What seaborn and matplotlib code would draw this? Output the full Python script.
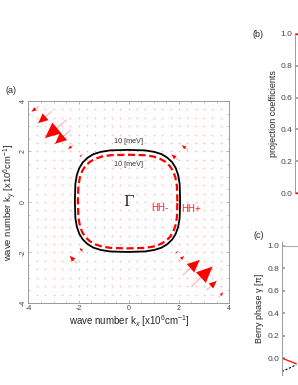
import matplotlib

matplotlib.use("Agg")
import matplotlib.pyplot as plt
import numpy as np
import pandas as pd
import seaborn as sns

# 10 meV constant-energy contours (units 1e6 cm^-1)
hhp_kx = [2.05, 2.03, 1.97, 1.87, 1.73, 1.54, 1.31, 1.02, 0.65, -0.05,
          -0.75, -1.12, -1.41, -1.64, -1.83, -1.97, -2.07, -2.13, -2.15,
          -2.13, -2.07, -1.97, -1.83, -1.64, -1.41, -1.12, -0.75, -0.05,
          0.65, 1.02, 1.31, 1.54, 1.73, 1.87, 1.97, 2.03, 2.05]
hhp_ky = [0.04, 0.72, 1.07, 1.35, 1.57, 1.75, 1.89, 1.98, 2.04, 2.06,
          2.04, 1.98, 1.89, 1.75, 1.57, 1.35, 1.07, 0.72, 0.04,
          -0.64, -0.99, -1.27, -1.49, -1.67, -1.81, -1.90, -1.96, -1.98,
          -1.96, -1.90, -1.81, -1.67, -1.49, -1.27, -0.99, -0.64, 0.04]
hhm_kx = [1.94, 1.92, 1.86, 1.77, 1.64, 1.46, 1.24, 0.97, 0.62, -0.05,
          -0.71, -1.06, -1.33, -1.55, -1.73, -1.86, -1.95, -2.01, -2.03,
          -2.01, -1.95, -1.86, -1.73, -1.55, -1.33, -1.06, -0.71, -0.05,
          0.62, 0.97, 1.24, 1.46, 1.64, 1.77, 1.86, 1.92, 1.94]
hhm_ky = [0.02, 0.64, 0.97, 1.22, 1.42, 1.59, 1.71, 1.80, 1.85, 1.87,
          1.85, 1.80, 1.71, 1.59, 1.42, 1.22, 0.97, 0.64, 0.02,
          -0.61, -0.94, -1.19, -1.39, -1.56, -1.68, -1.77, -1.82, -1.84,
          -1.82, -1.77, -1.68, -1.56, -1.39, -1.19, -0.94, -0.61, 0.02]

# visible arrows of the vector field: tail position and vector
arrow_kx = [-3.61, -3.08, -2.48, -2.32, -2.21, -1.85,
            2.16, 2.50, 3.10, 3.60, 2.00, 1.85,
            1.97, 2.35, -2.08, -1.80]
arrow_ky = [3.77, 3.58, 3.25, 2.85, 2.26, 1.88,
            -2.89, -3.35, -3.49, -3.75, -2.33, -2.05,
            1.66, 2.05, -2.43, -2.00]
arrow_u = [-0.26, -0.53, -0.86, -0.62, -0.20, -0.10,
           0.67, 0.84, 0.40, 0.16, 0.20, 0.10,
           -0.26, -0.22, -0.27, -0.15]
arrow_v = [-0.19, -0.46, -0.72, -0.55, -0.16, -0.09,
           0.59, 0.79, 0.36, 0.16, 0.18, 0.09,
           0.21, 0.19, 0.29, 0.17]

# background sampling grid of the field
grid_k = np.linspace(-11 / 3, 11 / 3, 23)

# panel (b) and (c) edges visible at the right border
proj_x = [0.0, 1.0]
proj_a = [1.0, 1.0]
proj_b = [0.0, 0.0]
berry_x = [0.0, 0.08]
berry_hhm = [0.0, -0.05]
berry_hhp = [-0.12, -0.06]

sns.set_theme(style="ticks")
plt.rcParams["font.family"] = ["Liberation Sans", "DejaVu Sans"]
plt.rcParams["mathtext.fontset"] = "custom"
plt.rcParams["mathtext.rm"] = "Liberation Sans"
plt.rcParams["mathtext.it"] = "Liberation Sans:italic"
plt.rcParams["axes.unicode_minus"] = False

spine_col = "#9a9a9a"
tick_col = "#444444"

fig = plt.figure(figsize=(2.98, 3.85), dpi=100)

# ---- panel (a)
ax = fig.add_axes([0.0956, 0.213, 0.673, 0.525])
gx, gy = np.meshgrid(grid_k, grid_k)
bg = pd.DataFrame({"kx": gx.ravel(), "ky": gy.ravel()})
sns.scatterplot(data=bg, x="kx", y="ky", s=1.6, color="#ffbcbc", linewidth=0, ax=ax)

for x, y, u, v in zip(arrow_kx, arrow_ky, arrow_u, arrow_v):
    L = np.hypot(u, v)
    ax.plot([x, x + u], [y, y + v], color="#ff9a9a", lw=0.6, zorder=3)
    h = 0.55
    ax.arrow(x + (1 - h) * u, y + (1 - h) * v, h * u, h * v, width=0.0005,
             head_width=0.5 * L, head_length=h * L, length_includes_head=True,
             color="#ff0000", lw=0, zorder=4)

cont = pd.DataFrame({"kx": hhp_kx, "ky": hhp_ky})
sns.lineplot(data=cont, x="kx", y="ky", sort=False, estimator=None,
             color="black", lw=1.3, ax=ax, zorder=5)
cont2 = pd.DataFrame({"kx": hhm_kx, "ky": hhm_ky})
sns.lineplot(data=cont2, x="kx", y="ky", sort=False, estimator=None,
             color="#ff0000", lw=1.6, linestyle=(0, (3.2, 1.6)), ax=ax, zorder=6)

ax.text(0.0, 2.38, "10 [meV]", ha="center", va="center", fontsize=5.2, color="#333333")
ax.text(0.0, 1.5, "10 [meV]", ha="center", va="center", fontsize=5.2, color="#333333")
ax.text(0.0, -0.02, "Γ", ha="center", va="center", fontsize=11,
        family=["DejaVu Serif"], color="#222222")
ax.text(1.24, -0.24, "HH-", ha="center", va="center", fontsize=7, color="#ff2020")
ax.text(2.5, -0.26, "HH+", ha="center", va="center", fontsize=7, color="#ff2020")

ax.set_xlim(-4, 4)
ax.set_ylim(-4, 4)
ax.set_xticks([-4, -2, 0, 2, 4])
ax.set_yticks([-4, -2, 0, 2, 4])
ax.set_xticks(np.arange(-4, 4.01, 0.5), minor=True)
ax.set_yticks(np.arange(-4, 4.01, 0.5), minor=True)
ax.tick_params(which="both", direction="in", top=True, right=True, color=spine_col,
               labelsize=5, labelcolor=tick_col, pad=1.5)
ax.tick_params(which="major", length=2.5, width=0.5)
ax.tick_params(which="minor", length=1.5, width=0.4)
for lab in ax.get_yticklabels():
    lab.set_rotation(90)
    lab.set_va("center")
for sp in ax.spines.values():
    sp.set_color(spine_col)
    sp.set_linewidth(0.7)
ax.set_xlabel(r"wave number k$_x$ [x10$^6$cm$^{-1}$]", fontsize=7, labelpad=1)
ax.set_ylabel(r"wave number k$_y$ [x10$^6$cm$^{-1}$]", fontsize=6.8)
ax.yaxis.set_label_coords(-0.045, 0.5)
fig.text(0.017, 0.758, "(a)", fontsize=6.5)

# ---- panel (b)
axb = fig.add_axes([0.99, 0.4987, 0.6, 0.413])
pb = pd.DataFrame({"x": proj_x + proj_x, "y": proj_a + proj_b, "s": ["a", "a", "b", "b"]})
sns.lineplot(data=pb, x="x", y="y", units="s", estimator=None, color="#ff0000",
             lw=1.0, ax=axb, clip_on=False)
axb.set_xlim(0, 1)
axb.set_ylim(0, 1)
axb.set_yticks(np.arange(0, 1.01, 0.2))
axb.set_yticklabels([f"{t:.1f}" for t in np.arange(0, 1.01, 0.2)])
axb.set_xticks([])
axb.tick_params(axis="y", labelsize=6, labelcolor=tick_col, color=spine_col,
                direction="in", length=2, pad=2)
axb.set_xlabel("")
axb.set_ylabel("projection coefficients", fontsize=6.5, labelpad=2)
for name, sp in axb.spines.items():
    sp.set_color(spine_col)
    sp.set_linewidth(0.7)
    sp.set_visible(name == "left")
fig.text(0.848, 0.905, "(b)", fontsize=6.5)

# ---- panel (c)
axc = fig.add_axes([0.946, 0.026, 0.6, 0.345])
axc.axhline(1.0, color="#b0b0b0", lw=0.8)
pc = pd.DataFrame({"x": berry_x + berry_x, "y": berry_hhm + berry_hhp,
                   "s": ["m", "m", "p", "p"]})
sns.lineplot(data=pc[pc.s == "m"], x="x", y="y", estimator=None, color="#ff0000",
             lw=0.9, ax=axc)
sns.lineplot(data=pc[pc.s == "p"], x="x", y="y", estimator=None, color="black",
             lw=0.8, linestyle=(0, (2, 1.5)), ax=axc)
axc.set_xlim(0, 1)
axc.set_ylim(-0.15, 1.03)
axc.set_yticks(np.arange(0, 1.01, 0.2))
axc.set_yticklabels([f"{t:.1f}" for t in np.arange(0, 1.01, 0.2)])
axc.set_xticks([])
axc.tick_params(axis="y", labelsize=6, labelcolor=tick_col, color=spine_col,
                direction="in", length=2, pad=2)
axc.set_xlabel("")
axc.set_ylabel("Berry phase γ [π]", fontsize=6.5, labelpad=2)
for name, sp in axc.spines.items():
    sp.set_color(spine_col)
    sp.set_linewidth(0.7)
    sp.set_visible(name == "left")
fig.text(0.852, 0.383, "(c)", fontsize=6.5)

fig.savefig("out.png", dpi=100)
plt.close(fig)
